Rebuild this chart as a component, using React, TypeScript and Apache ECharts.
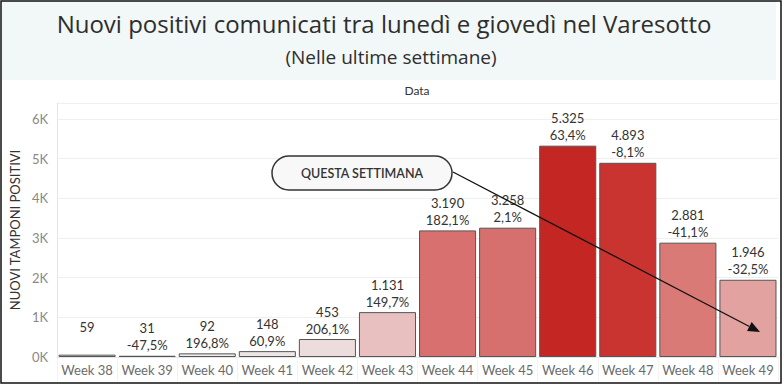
import React, { useEffect, useRef } from "react";
import * as echarts from "echarts";

const categories = ["Week 38", "Week 39", "Week 40", "Week 41", "Week 42", "Week 43", "Week 44", "Week 45", "Week 46", "Week 47", "Week 48", "Week 49"];
const positives = [59, 31, 92, 148, 453, 1131, 3190, 3258, 5325, 4893, 2881, 1946];
const pctChange: (number | null)[] = [null, -47.5, 196.8, 60.9, 206.1, 149.7, 182.1, 2.1, 63.4, -8.1, -41.1, -32.5];
const barColors = ["#f1efef", "#f1efef", "#efeaea", "#eee6e6", "#eddcdc", "#e8c0c0", "#d7706e", "#d6706e", "#c42623", "#c93431", "#d97a76", "#e2a2a0"];
const yTicks = { min: 0, max: 6400, interval: 1000 };

const FONT = "Lato, 'Open Sans', sans-serif";
const TITLE_FONT = "'Open Sans', Lato, sans-serif";

function fmtThousands(v: number): string {
  return String(v).replace(/\B(?=(\d{3})+(?!\d))/g, ".");
}
function fmtPct(p: number | null): string {
  if (p === null) return " ";
  return p.toFixed(1).replace(".", ",") + "%";
}

export default function App() {
  const ref = useRef<HTMLDivElement>(null);
  useEffect(() => {
    if (!ref.current) return;
    const chart = echarts.init(ref.current, null, { renderer: "svg" });

    const start = [453, 172];
    const tip = [760, 332];
    const dx = tip[0] - start[0];
    const dy = tip[1] - start[1];
    const len = Math.sqrt(dx * dx + dy * dy);
    const ux = dx / len, uy = dy / len;
    const headL = 12, headW = 5;
    const bx = tip[0] - ux * headL, by = tip[1] - uy * headL;
    const p1 = [bx - uy * headW, by + ux * headW];
    const p2 = [bx + uy * headW, by - ux * headW];

    chart.setOption({
      animation: false,
      backgroundColor: "#ffffff",
      textStyle: { fontFamily: FONT },
      title: [
        {
          text: "Nuovi positivi comunicati tra lunedì e giovedì nel Varesotto",
          left: 384,
          textAlign: "center",
          top: 11,
          padding: 0,
          textStyle: { fontFamily: TITLE_FONT, fontSize: 24, fontWeight: "normal", color: "#2e2e2e" },
        },
        {
          text: "(Nelle ultime settimane)",
          left: 391,
          textAlign: "center",
          top: 47,
          padding: 0,
          textStyle: { fontFamily: TITLE_FONT, fontSize: 19, fontWeight: "normal", color: "#2e2e2e" },
        },
        {
          text: "Data",
          left: 417,
          textAlign: "center",
          top: 84,
          padding: 0,
          textStyle: { fontFamily: FONT, fontSize: 12, fontWeight: "normal", color: "#333333" },
        },
      ],
      graphic: [
        {
          type: "rect",
          z: -10,
          silent: true,
          shape: { x: 1, y: 1, width: 775, height: 79 },
          style: { fill: "#f2f7f7" },
        },
        {
          type: "rect",
          z: 100,
          silent: true,
          shape: { x: 1, y: 1, width: 780, height: 382 },
          style: { fill: "none", stroke: "#111111", lineWidth: 1.5 },
        },
        {
          type: "line",
          z: 50,
          shape: { x1: start[0], y1: start[1], x2: bx, y2: by },
          style: { stroke: "#111111", lineWidth: 1.3 },
        },
        {
          type: "polygon",
          z: 50,
          shape: { points: [tip, p1, p2] },
          style: { fill: "#111111" },
        },
        {
          type: "rect",
          z: 60,
          shape: { x: 272, y: 156, width: 180, height: 34, r: 17 },
          style: { fill: "#f8f8f8", stroke: "#333333", lineWidth: 1.5 },
        },
        {
          type: "text",
          z: 61,
          x: 362,
          y: 173,
          style: {
            text: "QUESTA SETTIMANA",
            fontFamily: FONT,
            fontSize: 12.5,
            fontWeight: 600,
            fill: "#333333",
            align: "center",
            verticalAlign: "middle",
          },
        },
      ],
      grid: { left: 57, right: 6, top: 103, bottom: 28, containLabel: false },
      xAxis: {
        type: "category",
        data: categories,
        axisLine: { show: true, lineStyle: { color: "#e6e6e6" } },
        axisTick: { show: true, length: 24, lineStyle: { color: "#f2f2f2" } },
        axisLabel: { color: "#6b6b6b", fontSize: 13, fontFamily: FONT, margin: 6, interval: 0 },
      },
      yAxis: {
        type: "value",
        min: yTicks.min,
        max: yTicks.max,
        interval: yTicks.interval,
        name: "NUOVI TAMPONI POSITIVI",
        nameLocation: "middle",
        nameGap: 35,
        nameTextStyle: { color: "#333333", fontSize: 13, fontFamily: FONT },
        axisLine: { show: true, lineStyle: { color: "#e6e6e6" } },
        axisTick: { show: false },
        axisLabel: {
          color: "#888888",
          fontSize: 13,
          fontFamily: FONT,
          margin: 9,
          showMaxLabel: false,
          formatter: (v: number) => (v % 1000 === 0 ? v / 1000 + "K" : ""),
        },
        splitLine: { show: true, lineStyle: { color: "#efefef" } },
      },
      series: [
        {
          type: "bar",
          data: positives.map((v, i) => ({
            value: v,
            itemStyle: { color: barColors[i] },
          })),
          barCategoryGap: "5%",
          itemStyle: { borderColor: "#555555", borderWidth: 1 },
          label: {
            show: true,
            position: "top",
            distance: 2,
            fontFamily: FONT,
            fontSize: 13,
            lineHeight: 17,
            color: "#333333",
            formatter: (p: any) => fmtThousands(positives[p.dataIndex]) + "\n" + fmtPct(pctChange[p.dataIndex]),
          },
        },
      ],
    });
    return () => chart.dispose();
  }, []);
  return <div ref={ref} style={{ position: "absolute", left: 0, top: 0, width: 784, height: 385 }} />;
}
